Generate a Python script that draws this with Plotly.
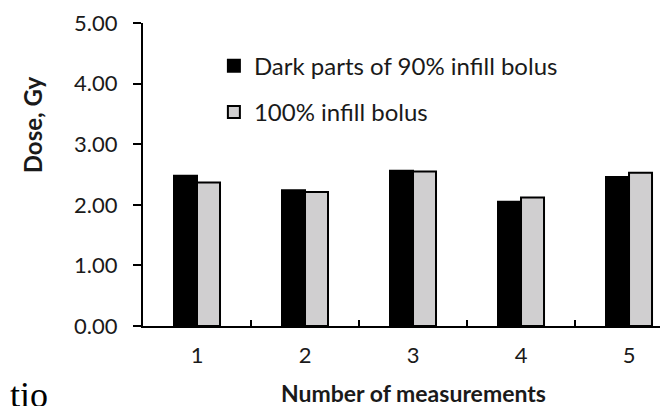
import plotly.graph_objects as go

categories = ["1", "2", "3", "4", "5"]
dark_90 = [2.48, 2.24, 2.56, 2.05, 2.46]
infill_100 = [2.37, 2.21, 2.55, 2.12, 2.53]
y_ticks = [0, 1, 2, 3, 4, 5]
y_tick_text = ["0.00", "1.00", "2.00", "3.00", "4.00", "5.00"]

FONT = "Lato"
TXT = "#1a1a1a"

fig = go.Figure()
fig.add_trace(go.Bar(x=categories, y=dark_90, name="Dark parts of 90% infill bolus",
                     marker=dict(color="#000000", line=dict(color="#000000", width=2)),
                     legend="legend"))
fig.add_trace(go.Bar(x=categories, y=infill_100, name="100% infill bolus",
                     marker=dict(color="#d0cfd0", line=dict(color="#000000", width=2)),
                     legend="legend2"))

fig.update_layout(
    width=668, height=406,
    margin=dict(l=135, r=0, t=15, b=88),
    plot_bgcolor="white", paper_bgcolor="white",
    barmode="group", bargap=0.574, bargroupgap=0,
    font=dict(family=FONT, size=22, color=TXT),
    legend=dict(x=0.133, y=0.932, xanchor="left", yanchor="top",
                bgcolor="rgba(0,0,0,0)", font=dict(size=24, color=TXT)),
    legend2=dict(x=0.133, y=0.779, xanchor="left", yanchor="top",
                 bgcolor="rgba(0,0,0,0)", font=dict(size=24, color=TXT)),
    xaxis=dict(type="category", range=[-0.5, 4.435], showline=True, linecolor="black",
               linewidth=2, ticks="inside", tickson="boundaries", ticklen=6,
               tickcolor="black", tickwidth=2, ticklabelstandoff=9,
               tickfont=dict(size=22, color=TXT)),
    yaxis=dict(range=[0, 5], tickvals=y_ticks, ticktext=y_tick_text, showline=True,
               linecolor="black", linewidth=2, ticks="outside", ticklen=8,
               tickcolor="black", tickwidth=2, showgrid=False, zeroline=False,
               ticklabelstandoff=11, tickfont=dict(size=22, color=TXT)),
    showlegend=True,
)
fig.add_annotation(text="<b>Number of measurements</b>", xref="paper", yref="paper",
                   x=0.508, y=-0.222, xanchor="center", yanchor="middle", showarrow=False,
                   font=dict(size=23, color=TXT))
fig.add_annotation(text="<b>Dose, Gy</b>", xref="paper", yref="paper",
                   x=-0.208, y=0.663, xanchor="center", yanchor="middle", showarrow=False,
                   textangle=-90, font=dict(size=24, color=TXT))
fig.add_annotation(text="tio", xref="paper", yref="paper",
                   x=-0.253, y=-0.155, xanchor="left", yanchor="top", showarrow=False,
                   font=dict(family="Liberation Serif", size=36, color="#000000"))

fig.write_html("out.html")
